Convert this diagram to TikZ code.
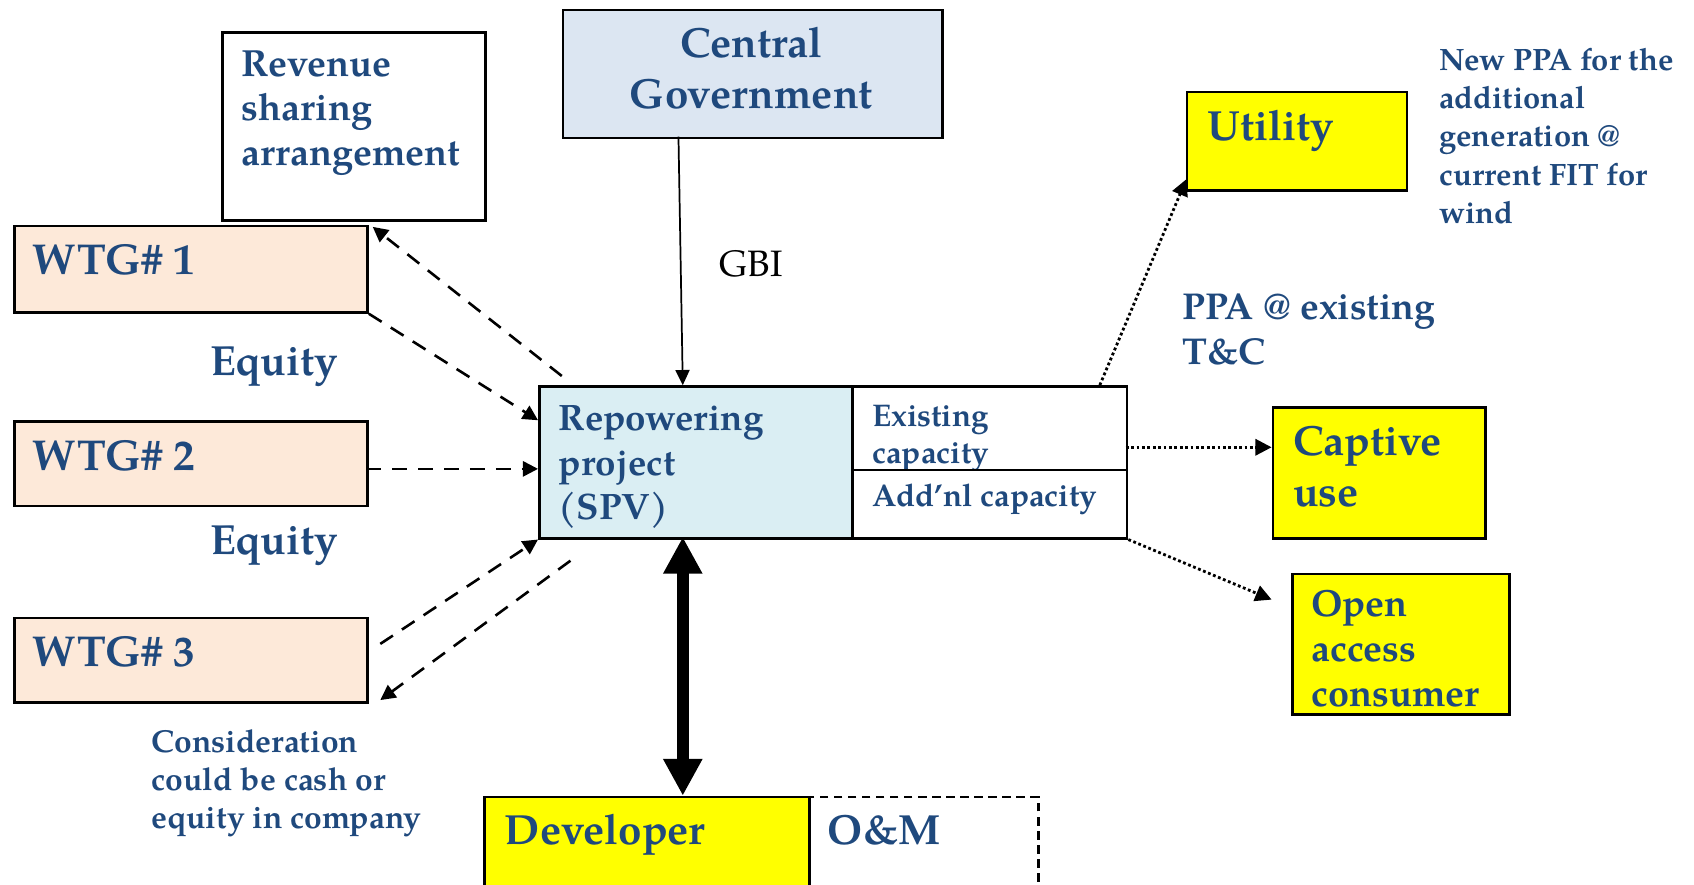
\documentclass[tikz,border=0pt]{standalone}
\usepackage{fontspec}
\setmainfont{TeX Gyre Pagella}
\usetikzlibrary{arrows.meta}
\definecolor{navy}{RGB}{31,73,125}
\definecolor{peach}{RGB}{253,233,217}
\definecolor{govblue}{RGB}{220,230,242}
\definecolor{spvblue}{RGB}{218,238,243}
\definecolor{ylw}{RGB}{255,255,0}
\newcommand{\fs}[2]{\fontsize{#1}{#2}\selectfont\bfseries}
\tikzstyle{box} = [rectangle, draw=black, line width=1.2pt, inner sep=0pt, anchor=north west]
\tikzstyle{wtg} = [box, fill=peach, minimum width=163.5pt, minimum height=39pt]
\tikzstyle{ybox} = [box, fill=ylw]
\tikzstyle{txt} = [anchor=base west, inner sep=0pt, align=left, text=navy]
\tikzstyle{dasharrow} = [line width=1.2pt, dash pattern=on 7pt off 5pt, -{Triangle[length=7pt,width=7pt]}]
\tikzstyle{dotarrow} = [line width=1.3pt, dash pattern=on 1.3pt off 1.2pt, -{Triangle[length=7.5pt,width=7.5pt]}]
\tikzstyle{arrow} = [line width=0.8pt, -{Triangle[length=7pt,width=6.5pt]}]
\tikzstyle{bigarrow} = [line width=5.5pt, {Triangle[length=17pt,width=17pt]}-{Triangle[length=17pt,width=17pt]}]

\begin{document}
\begin{tikzpicture}[x=0.5pt, y=-0.5pt]
	\useasboundingbox (0,0) rectangle (1568,819);
	\node (revenue) at (205,29) [box, fill=white, minimum width=121.5pt, minimum height=87pt] {};
	\node (central) at (520,8) [box, fill=govblue, minimum width=175.5pt, minimum height=59.25pt] {};
	\node (wtga) at (12,208) [wtg, minimum height=40pt] {};
	\node (wtgb) at (12,389) [wtg] {};
	\node (wtgc) at (12,571) [wtg] {};
	\node (spv) at (498,356.5) [box, fill=spvblue, minimum width=145pt, minimum height=70.25pt] {};
	\node (existing) at (788,356.5) [box, fill=white, minimum width=127pt, minimum height=38.75pt] {};
	\node (existtext) at (807,429) [txt, font=\fs{14.5}{16.9}] {Existing\\capacity};
	\node (addnl) at (788,434) [box, fill=white, minimum width=127pt, minimum height=31.5pt] {};
	\node (utility) at (1097.5,84) [ybox, minimum width=101.75pt, minimum height=45.5pt] {};
	\node (captive) at (1177,376) [ybox, minimum width=98.5pt, minimum height=60.5pt] {};
	\node (openacc) at (1195,530) [ybox, minimum width=100.5pt, minimum height=65pt] {};
	\node (onm) at (748,736.5) [box, line width=1.1pt, dash pattern=on 4pt off 2.5pt, minimum width=106pt, minimum height=56.75pt] {};
	\node (developer) at (447.5,736.5) [ybox, minimum width=150.25pt, minimum height=56.75pt] {};

	\node (revtext) at (223,153.3) [txt, font=\fs{17.5}{20.7}] {Revenue\\sharing\\arrangement};
	\node (centraltext) at (695.5,100.3) [txt, anchor=base, align=center, font=\fs{19.5}{23.6}] {Central\\Government};
	\node (wtgatext) at (30,253.7) [txt, font=\fs{20}{23}] {WTG\# 1};
	\node (equitya) at (194,348) [txt, font=\fs{19.5}{23}] {Equity};
	\node (wtgbtext) at (30,435.6) [txt, font=\fs{20}{23}] {WTG\# 2};
	\node (equityb) at (194,512.8) [txt, font=\fs{19.5}{23}] {Equity};
	\node (wtgctext) at (30,617) [txt, font=\fs{20}{23}] {WTG\# 3};
	\node (considertext) at (140,767.3) [txt, font=\fs{14.7}{17.75}] {Consideration\\could be cash or\\equity in company};
	\node (spvtext) at (517,481.3) [txt, font=\fs{17}{20.8}] {Repowering\\project\\(SPV)};
	\node (addnltext) at (807,469) [txt, font=\fs{14.5}{16.9}] {Add’nl capacity};
	\node (gbitext) at (666,256) [anchor=base west, inner sep=0pt, font=\fontsize{17}{20}\selectfont] {GBI};
	\node (utiltext) at (1117.5,130.2) [txt, font=\fs{19.5}{23}] {Utility};
	\node (newppatext) at (1332,206.6) [txt, font=\fs{14.3}{17.65}] {New PPA for the\\additional\\generation @\\current FIT for\\wind};
	\node (ppatext) at (1094,337.8) [txt, font=\fs{17.3}{21.1}] {PPA @ existing\\T\&C};
	\node (captivetext) at (1196.5,469) [txt, font=\fs{19.5}{23.5}] {Captive\\use};
	\node (opentext) at (1213.4,653.5) [txt, font=\fs{17.5}{20.7}] {Open\\access\\consumer};
	\node (devtext) at (467,782) [txt, font=\fs{19.5}{23}] {Developer};
	\node (omtext) at (766,782) [txt, font=\fs{19.5}{23}] {O\&M};

	\coordinate (gbitop) at (628,126.5);
	\coordinate (gbibot) at (632,356.5);
	\coordinate (revout) at (520,348);
	\coordinate (revin) at (345,210);
	\coordinate (spvina) at (498,389);
	\coordinate (wtgbout) at (339,434);
	\coordinate (spvinb) at (498,434);
	\coordinate (wtgcout) at (352,596);
	\coordinate (spvout) at (528,519);
	\coordinate (wtgcin) at (352,648);
	\coordinate (devtop) at (632,736.5);
	\coordinate (spvbot) at (632,497);
	\coordinate (utilout) at (1018,356.5);
	\coordinate (utilin) at (1098,166);
	\coordinate (captout) at (1042,414);
	\coordinate (captin) at (1177,414);
	\coordinate (openin) at (1177,555);

	\draw [arrow] (gbitop) -- (gbibot);
	\draw [dasharrow] (revout) -- (revin);
	\draw [dasharrow] (wtga.south east) -- (spvina);
	\draw [dasharrow] (wtgbout) -- (spvinb);
	\draw [dasharrow] (wtgcout) -- (spv.south west);
	\draw [dasharrow] (spvout) -- (wtgcin);
	\draw [bigarrow] (spvbot) -- (devtop);
	\draw [dotarrow] (utilout) -- (utilin);
	\draw [dotarrow] (captout) -- (captin);
	\draw [dotarrow] (addnl.south east) -- (openin);
\end{tikzpicture}
\end{document}
